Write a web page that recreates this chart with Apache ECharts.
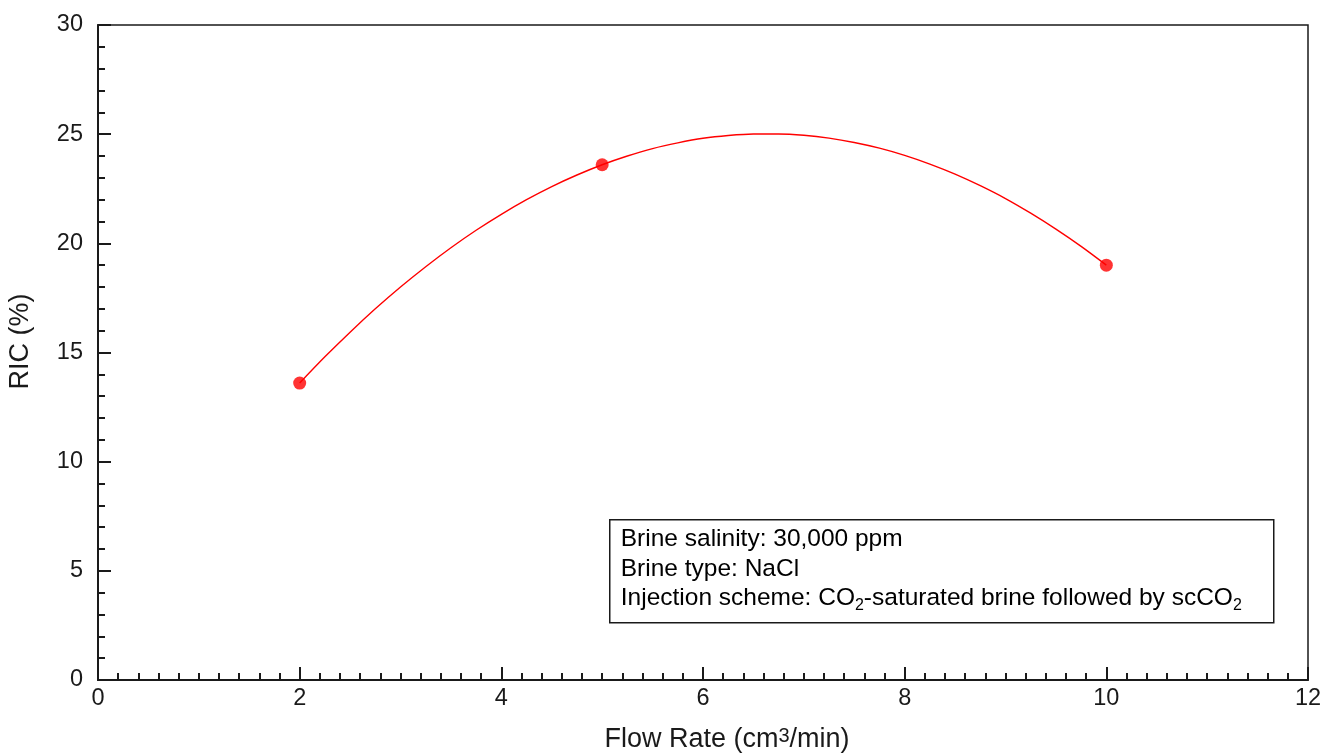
<!DOCTYPE html>
<html>
<head>
<meta charset="utf-8">
<script src="https://cdn.jsdelivr.net/npm/echarts@6/dist/echarts.min.js"></script>
<style>
  html, body { margin: 0; padding: 0; background: #fff; }
  #chart { width: 1326px; height: 756px; }
</style>
</head>
<body>
<div id="chart"></div>
<script>
// measured points
const flowRate = [2, 5, 10];
const ric = [13.6, 23.6, 19.0];

// fitted curve
const curveX = [2, 2.25, 2.5, 2.75, 3, 3.25, 3.5, 3.75, 4, 4.25, 4.5, 4.75, 5, 5.25, 5.5, 5.75,
  6, 6.25, 6.5, 6.75, 7, 7.25, 7.5, 7.75, 8, 8.25, 8.5, 8.75, 9, 9.25, 9.5, 9.75, 10];
const curveY = [13.6, 14.8, 15.93, 17.0, 18.0, 18.93, 19.8, 20.6, 21.33, 22.0, 22.6, 23.13, 23.6, 24.0, 24.34, 24.6,
  24.81, 24.94, 25.01, 25.01, 24.95, 24.82, 24.62, 24.36, 24.03, 23.63, 23.17, 22.64, 22.05, 21.38, 20.65, 19.86, 19.0];

const noteLines = [
  'Brine salinity: 30,000 ppm',
  'Brine type: NaCl',
  'Injection scheme: CO{sub|2}-saturated brine followed by scCO{sub|2}'
];

const FONT = '"Liberation Sans", Arial, Helvetica, sans-serif';
const INK = '#1a1a1a';

const chart = echarts.init(document.getElementById('chart'));

const option = {
  animation: false,
  backgroundColor: '#fff',
  textStyle: { fontFamily: FONT },
  grid: {
    left: 98, right: 18, top: 25, bottom: 76,
    containLabel: false,
    outerBoundsMode: 'none',
    show: true, borderColor: INK, borderWidth: 1.5, backgroundColor: 'transparent'
  },
  xAxis: {
    type: 'value',
    min: 0, max: 12, interval: 2,
    name: 'Flow Rate (cm{sup|3}/min)',
    nameLocation: 'middle',
    nameGap: 46,
    nameTextStyle: {
      fontSize: 27, color: INK, fontFamily: FONT,
      padding: [0, 0, 0, 48],
      rich: { sup: { fontSize: 20, verticalAlign: 'top', padding: [0, 0, 8, 0], fontFamily: FONT, color: INK } }
    },
    axisLine: { lineStyle: { color: INK, width: 2 } },
    axisTick: { inside: true, length: 13, lineStyle: { color: INK, width: 2 } },
    minorTick: { show: true, splitNumber: 10, length: 7, lineStyle: { color: INK, width: 2 } },
    axisLabel: { fontSize: 23.5, color: INK, margin: 7, fontFamily: FONT },
    splitLine: { show: false }
  },
  yAxis: {
    type: 'value',
    min: 0, max: 30, interval: 5,
    name: 'RIC (%)',
    nameLocation: 'middle',
    nameGap: 64,
    nameRotate: 90,
    nameTextStyle: { fontSize: 27, color: INK, fontFamily: FONT, padding: [0, 0, 0, 22] },
    axisLine: { lineStyle: { color: INK, width: 2 } },
    axisTick: { inside: true, length: 13, lineStyle: { color: INK, width: 2 } },
    minorTick: { show: true, splitNumber: 5, length: 7, lineStyle: { color: INK, width: 2 } },
    axisLabel: { fontSize: 23.5, color: INK, margin: 15, fontFamily: FONT },
    splitLine: { show: false }
  },
  graphic: [{
    type: 'group',
    left: 609,
    top: 519,
    children: [
      {
        type: 'rect',
        shape: { x: 0, y: 0, width: 664, height: 103 },
        style: { fill: '#fff', stroke: INK, lineWidth: 1.5 }
      },
      {
        type: 'text',
        x: 11, y: 5,
        style: {
          text: noteLines.join('\n'),
          fontSize: 24.5,
          fontFamily: FONT,
          fill: '#000',
          lineHeight: 29.5,
          rich: {
            sub: { fontSize: 16, padding: [14, 0, 0, 0], fill: '#000', fontFamily: FONT, lineHeight: 29.5 }
          }
        }
      }
    ]
  }],
  series: [
    {
      type: 'line',
      data: curveX.map((x, i) => [x, curveY[i]]),
      smooth: 0.3,
      showSymbol: false,
      lineStyle: { color: '#ff0000', width: 1.4 },
      z: 2
    },
    {
      type: 'scatter',
      data: flowRate.map((x, i) => [x, ric[i]]),
      symbol: 'circle',
      symbolSize: 13,
      itemStyle: { color: '#ff0000' },
      z: 3
    }
  ]
};

chart.setOption(option);
</script>
</body>
</html>
